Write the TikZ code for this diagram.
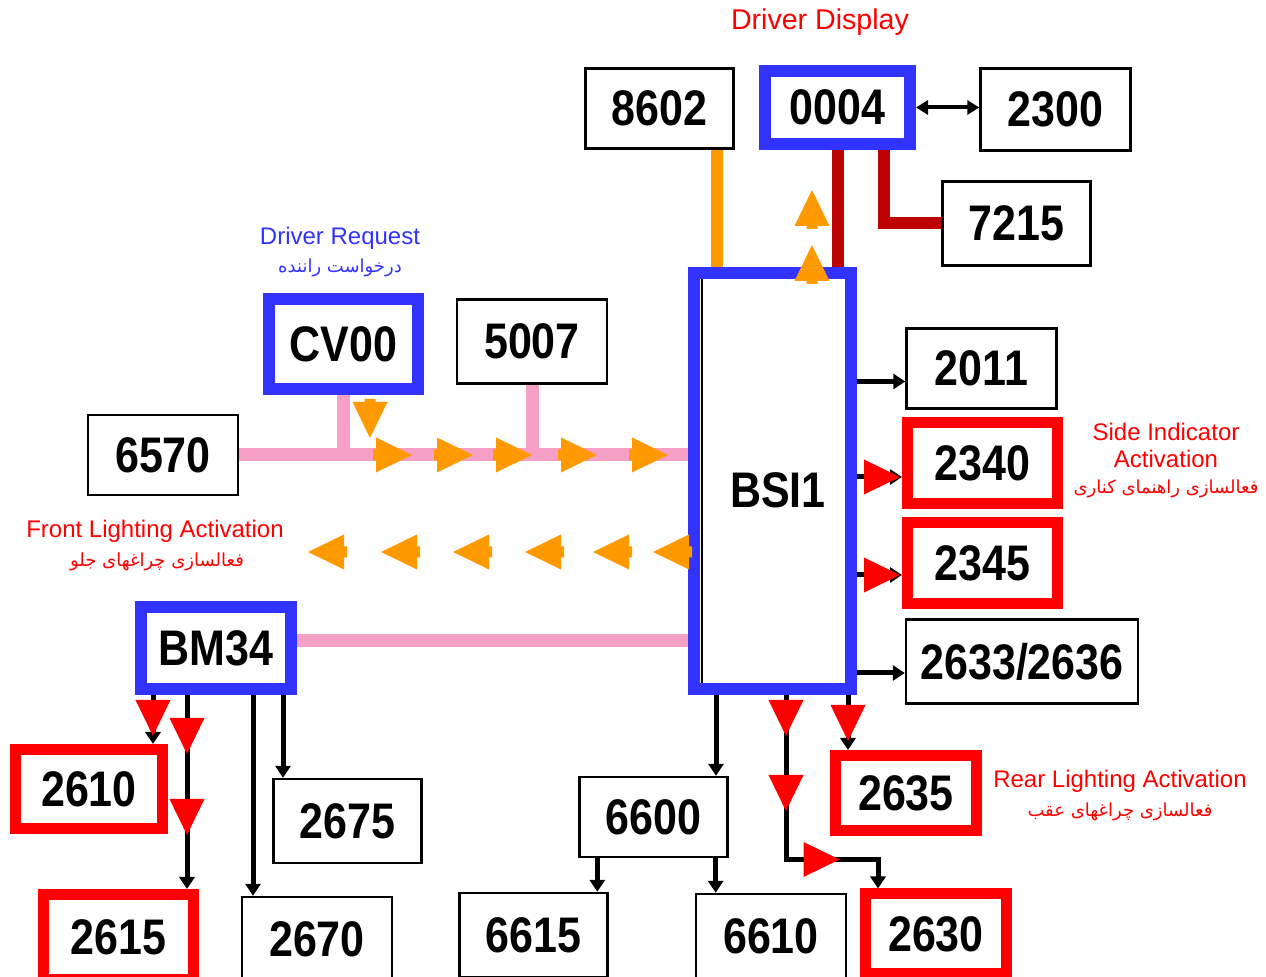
\documentclass[tikz,border=0pt]{standalone}
\usepackage{fontspec}
\setmainfont{Liberation Sans}
\newfontfamily\boxfont[FakeStretch=0.86]{Liberation Sans}
\newfontfamily\farsifont[Script=Arabic]{DejaVu Sans}
\TeXXeTstate=1
\usetikzlibrary{arrows.meta,positioning,decorations.markings}

\definecolor{ecublue}{RGB}{51,51,255}
\definecolor{flow}{RGB}{255,153,0}
\definecolor{buspink}{RGB}{245,160,196}
\definecolor{wirered}{RGB}{190,0,0}

\tikzset{
  ecu/.style={draw=black, line width=1.2pt, fill=white, inner sep=0pt,
    font=\boxfont\bfseries\fontsize{25}{25}\selectfont},
  bluebox/.style={ecu, draw=ecublue, line width=6pt},
  redbox/.style={ecu, draw=red, line width=5.5pt},
  pinkbus/.style={draw=buspink, line width=6.5pt},
  orangebus/.style={draw=flow, line width=6pt},
  darkwire/.style={draw=wirered, line width=6pt},
  sigarrow/.style={line width=2.5pt, -{Triangle[length=6pt,width=7.5pt]}},
  redtip/.style={postaction={decorate, decoration={markings,
    mark=at position #1 with {\fill[red] (0pt,-8.75pt) -- (18pt,0pt) -- (0pt,8.75pt) -- cycle;}}}},
  redlabel/.style={text=red, font=\fontsize{12}{14}\selectfont, align=center},
  redfa/.style={text=red, font=\farsifont\fontsize{9}{11}\selectfont},
  flowtip/.pic={\fill[flow] (0pt,0pt) -- (-18pt,8.75pt) -- (-18pt,2.75pt) -- (-19.5pt,2.75pt)
    -- (-19.5pt,-2.75pt) -- (-18pt,-2.75pt) -- (-18pt,-8.75pt) -- cycle;}
}

\begin{document}
\begin{tikzpicture}[x=0.5pt, y=-0.5pt]
  \useasboundingbox (0,0) rectangle (1266,977);

  % modules
  \node[ecu, minimum width=74pt, minimum height=40pt] (n8602) at (659.5,108.5) {8602};
  \node[bluebox, minimum width=72.5pt, minimum height=36.5pt] (n0004) at (837.5,107.5) {0004};
  \node[ecu, minimum width=75pt, minimum height=41pt] (n2300) at (1055.5,109.5) {2300};
  \node[ecu, minimum width=74pt, minimum height=42pt] (n7215) at (1016.5,223.5) {7215};
  \node[bluebox, minimum width=74.5pt, minimum height=45pt] (nCV) at (343.5,344) {CV00};
  \node[ecu, minimum width=75pt, minimum height=42pt] (n5007) at (532,341.5) {5007};
  \node[ecu, minimum width=75pt, minimum height=40pt] (n6570) at (163,455) {6570};
  \node[bluebox, minimum width=78.5pt, minimum height=208pt] (nBSI) at (772.5,481) {};
  \node[font=\boxfont\bfseries\fontsize{25}{25}\selectfont] (tBSI) at (778,490) {BSI1};
  \node[ecu, minimum width=75pt, minimum height=40pt] (n2011) at (981.5,368.5) {2011};
  \node[redbox, minimum width=75pt, minimum height=40.5pt] (n2340) at (982.5,463) {2340};
  \node[redbox, minimum width=75pt, minimum height=40.5pt] (n2345) at (982.5,563) {2345};
  \node[ecu, minimum width=116pt, minimum height=42pt] (n2633) at (1022,661.5) {2633/2636};
  \node[bluebox, minimum width=75pt, minimum height=41pt] (nBM) at (216,648) {BM34};
  \node[redbox, minimum width=73.5pt, minimum height=39.5pt] (n2610) at (89,789) {2610};
  \node[redbox, minimum width=75pt, minimum height=42.5pt] (n2615) at (118.5,937) {2615};
  \node[ecu, minimum width=74pt, minimum height=42pt] (n2675) at (347.5,821) {2675};
  \node[ecu, minimum width=75pt, minimum height=42pt] (n2670) at (317,939) {2670};
  \node[ecu, minimum width=74pt, minimum height=40pt] (n6600) at (653.5,817) {6600};
  \node[ecu, minimum width=74pt, minimum height=42pt] (n6615) at (533.5,935) {6615};
  \node[ecu, minimum width=75pt, minimum height=42pt] (n6610) at (771,936) {6610};
  \node[redbox, minimum width=70.5pt, minimum height=37.5pt] (n2635) at (906,793) {2635};
  \node[redbox, minimum width=70.5pt, minimum height=40pt] (n2630) at (936,934) {2630};
  \draw[line width=1pt] ([xshift=7pt,yshift=-6pt]nBSI.north west) -- ([xshift=7pt,yshift=6pt]nBSI.south west);

  % labels
  \node[redlabel, font=\fontsize{14.3}{16}\selectfont] (lDisplay) at (820,22) {Driver Display};
  \node[redlabel, text=ecublue] (lRequest) at (340,238) {Driver Request};
  \node[redfa, text=ecublue] (lRequestFa) at (340,268) {\beginR درخواست راننده\endR};
  \node[redlabel] (lFront) at (155,531) {Front Lighting Activation};
  \node[redfa] (lFrontFa) at (157,562) {\beginR فعالسازی چراغهای جلو\endR};
  \node[redlabel, font=\fontsize{12}{13.5}\selectfont] (lSide) at (1166,445) {Side Indicator\\Activation};
  \node[redfa] (lSideFa) at (1166,489) {\beginR فعالسازی راهنمای کناری\endR};
  \node[redlabel] (lRear) at (1120,781) {Rear Lighting Activation};
  \node[redfa] (lRearFa) at (1120,812) {\beginR فعالسازی چراغهای عقب\endR};

  % buses and wires
  \draw[pinkbus] (n6570.east) -- (n6570.east -| nBSI.west);
  \draw[pinkbus] (nCV.south) -- (nCV.south |- n6570.east);
  \draw[pinkbus] (n5007.south) -- (n5007.south |- n6570.east);
  \coordinate (pBM) at ([yshift=3.5pt]nBM.east);
  \draw[pinkbus] (pBM) -- (pBM -| nBSI.west);
  \coordinate (o8602) at ([xshift=-9pt]n8602.south east);
  \draw[orangebus] (o8602) -- (o8602 |- nBSI.north);
  \draw[darkwire] (n0004.south) -- (n0004.south |- nBSI.north);
  \draw[darkwire] ([xshift=23.25pt]n0004.south) |- (n7215.west);
  \draw[line width=2pt, {Triangle[length=6pt,width=7pt]}-{Triangle[length=6pt,width=7pt]}]
    (n0004.east) -- (n0004.east -| n2300.west);

  % BSI1 outputs
  \coordinate (t2011) at ([yshift=-6.5pt]n2011.west);
  \coordinate (t2340) at ([yshift=-7pt]n2340.west);
  \coordinate (t2345) at ([yshift=-6pt]n2345.west);
  \coordinate (t2633) at ([yshift=-5.75pt]n2633.west);
  \draw[sigarrow] (t2011 -| nBSI.east) -- (t2011);
  \draw[sigarrow, redtip=3.5pt] (t2340 -| nBSI.east) -- (t2340);
  \draw[sigarrow, redtip=3.5pt] (t2345 -| nBSI.east) -- (t2345);
  \draw[sigarrow] (t2633 -| nBSI.east) -- (t2633);

  \coordinate (s6600) at ([xshift=14pt]nBSI.south west);
  \draw[sigarrow] (s6600) -- (s6600 |- n6600.north);
  \coordinate (s2630) at ([xshift=49pt]nBSI.south west);
  \coordinate (k2630) at ([xshift=9pt]n2630.north west);
  \draw[sigarrow, redtip=2.5pt, redtip=40pt, redtip=91pt] (s2630) |- ([yshift=14.5pt]k2630) -- (k2630);
  \coordinate (s2635) at ([xshift=-4.5pt]nBSI.south east);
  \draw[sigarrow, redtip=5pt] (s2635) -- (s2635 |- n2635.north);
  \coordinate (s6615) at ([xshift=9.5pt]n6600.south west);
  \draw[sigarrow] (s6615) -- (s6615 |- n6615.north);
  \coordinate (s6610) at ([xshift=-6.5pt]n6600.south east);
  \draw[sigarrow] (s6610) -- (s6610 |- n6610.north);

  % BM34 outputs
  \coordinate (s2610) at ([xshift=9pt]nBM.south west);
  \draw[sigarrow, redtip=2.5pt] (s2610) -- (s2610 |- n2610.north);
  \coordinate (s2615) at ([xshift=26pt]nBM.south west);
  \draw[sigarrow, redtip=11.5pt, redtip=52pt] (s2615) -- (s2615 |- n2615.north);
  \coordinate (s2670) at ([xshift=59pt]nBM.south west);
  \draw[sigarrow] (s2670) -- (s2670 |- n2670.north);
  \coordinate (s2675) at ([xshift=-7pt]nBM.south east);
  \draw[sigarrow] (s2675) -- (s2675 |- n2675.north);

  % message flow
  \foreach \x in {412,473,532,597,668}
    \pic at (\x,455) {flowtip};
  \foreach \x in {308,381,453,525,593,653}
    \pic[rotate=180] at (\x,552) {flowtip};
  \pic[rotate=-90] at (370,438) {flowtip};
  \pic[rotate=90] at (812,190) {flowtip};
  \pic[rotate=90] at (812,245) {flowtip};
\end{tikzpicture}
\end{document}
